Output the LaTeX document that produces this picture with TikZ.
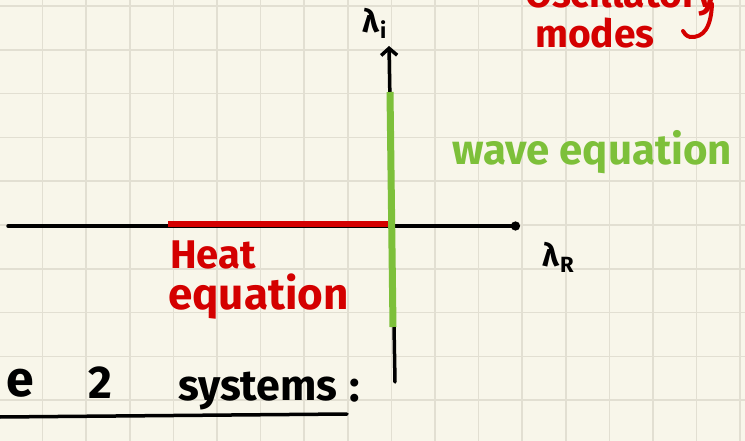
\documentclass[tikz,border=0pt]{standalone}
\usepackage{fontspec}
\setmainfont{Fira Sans}
\usepackage{xcolor}
\usetikzlibrary{arrows.meta,positioning}

\definecolor{paper}{HTML}{F8F6EA}
\definecolor{gridgray}{HTML}{E2DFD2}
\definecolor{inkred}{HTML}{D40000}
\definecolor{inkgreen}{HTML}{7DC03A}

\newcommand{\handsize}[1]{\fontsize{#1}{#1}\selectfont\bfseries}
\newcommand{\lamsub}[1]{λ\kern1pt\raisebox{-6pt}{\fontsize{22}{22}\selectfont #1}}

\begin{document}
\begin{tikzpicture}[
    x=1pt,
    y=-1pt,
    gridline/.style={line width=1.6pt,draw=gridgray},
    axis/.style={line width=3.5pt,draw=black,line cap=round},
    heatline/.style={line width=6pt,draw=inkred},
    waveline/.style={line width=7pt,draw=inkgreen},
    redtext/.style={text=inkred,inner sep=0pt},
    greentext/.style={text=inkgreen,inner sep=0pt},
    blacktext/.style={text=black,inner sep=0pt},
    axislabel/.style={text=black,inner sep=0pt,font=\handsize{32}}
]

% ---------------------------------------------------------
% Paper and grid
% ---------------------------------------------------------

\useasboundingbox (0,0) rectangle (745,441);
\clip (0,0) rectangle (745,441);
\fill[paper] (0,0) rectangle (745,441);

\foreach \k in {0,...,17}
    \draw[gridline] ({-1+43.6*\k},0) -- ({-1+43.6*\k},441);

\foreach \k in {0,...,10}
    \draw[gridline] (0,{6+43.8*\k}) -- (745,{6+43.8*\k});

% ---------------------------------------------------------
% Axes
% ---------------------------------------------------------

\coordinate (xstart) at (8,226);
\coordinate (xend)   at (520,226);
\coordinate (ybot)   at (395,382);
\coordinate (ytop)   at (389,46);

\draw[axis,-{Circle[length=9pt,width=9pt]}]
    (xstart) -- (xend);

% Heat equation: negative real axis part
\coordinate (heatL) at (168,224);
\coordinate (heatR) at (391,224);
\draw[heatline] (heatL) -- (heatR);

\draw[axis,-{Straight Barb[length=7pt,width=16pt]}]
    (ybot) -- (ytop);

% Wave equation: imaginary axis part
\coordinate (waveB) at (393,327);
\coordinate (waveT) at (390,92);
\draw[waveline] (waveB) -- (waveT);

\node[axislabel,anchor=base west] (lamI) at (362,33) {\lamsub{i}};

\node[axislabel,anchor=base west] (lamR) at (542,266) {\lamsub{R}};

% ---------------------------------------------------------
% Labels
% ---------------------------------------------------------

\node[redtext,anchor=base west] (heat) at (170,268)
    {\handsize{40}Heat};

\node[redtext,anchor=base west] (equa) at (168,309)
    {\handsize{44}equation};

\node[greentext,anchor=base west] (wave) at (452,165)
    {\handsize{42}wave equation};

\node[redtext,anchor=base west] (osci) at (525,8)
    {\handsize{39}Oscillatory};

\node[redtext,anchor=base west] (modes) at (535,48)
    {\handsize{39}modes};

\draw[inkred,line width=4pt,line cap=round]
    (712,4) .. controls (711,27) and (704,38) .. (690,37)
    .. controls (686,36) and (684,33) .. (683,31);

% ---------------------------------------------------------
% Bottom line of notes
% ---------------------------------------------------------

\node[blacktext,anchor=base east] (pre) at (34,396)
    {\handsize{50}e};

\node[blacktext,anchor=base west] (two) at (88,398)
    {\handsize{46}2};

\node[blacktext,anchor=base west] (sys) at (178,400)
    {\handsize{43}systems};

\node[blacktext,anchor=base west] (colon) at (349,401)
    {\handsize{44}:};

\coordinate (ulL) at (0,417);
\coordinate (ulR) at (347,414);
\draw[axis] (ulL) -- (ulR);

\end{tikzpicture}
\end{document}
